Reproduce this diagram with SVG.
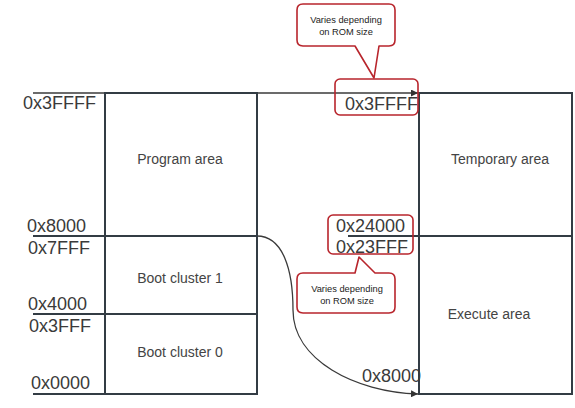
<svg xmlns="http://www.w3.org/2000/svg" width="575" height="408" viewBox="0 0 575 408">
<defs>
<marker id="arr" viewBox="0 0 10 10" refX="10" refY="5" markerWidth="7" markerHeight="7" markerUnits="userSpaceOnUse" orient="auto">
<path d="M0,0 L10,5 L0,10 z" fill="#333"/>
</marker>
</defs>
<style>
.box{fill:none;stroke:#333c44;stroke-width:2}
.ln{fill:none;stroke:#333c44;stroke-width:2}
.con{fill:none;stroke:#3a3a3a;stroke-width:1.3}
.addr{font-family:"Liberation Sans",Arial,sans-serif;font-size:18px;fill:#3a3a3a}
.lbl{font-family:"Liberation Sans",Arial,sans-serif;font-size:14px;fill:#444;text-anchor:middle}
.call{fill:#fff;stroke:#b8252c;stroke-width:1.6;stroke-linejoin:round}
.hl{fill:none;stroke:#b8252c;stroke-width:1.6}
.ct{font-family:"Liberation Sans",Arial,sans-serif;font-size:9.3px;fill:#222;text-anchor:middle}
</style>
<rect width="575" height="408" fill="#fff"/>
<g id="connectors">
<line class="con" x1="33" y1="93" x2="418" y2="93" marker-end="url(#arr)"/>
<path class="con" d="M257,236 C283,236 293,270 293,310 C293,360 355,392 418,394" marker-end="url(#arr)"/>
</g>
<g id="program-area">
<rect class="box" x="105" y="93" width="152" height="143"/>
<text class="lbl" x="180" y="164">Program area</text>
</g>
<g id="boot-cluster-1">
<rect class="box" x="105" y="236" width="152" height="78"/>
<text class="lbl" x="180" y="283">Boot cluster 1</text>
</g>
<g id="boot-cluster-0">
<rect class="box" x="105" y="314" width="152" height="80"/>
<text class="lbl" x="180" y="357">Boot cluster 0</text>
</g>
<g id="left-lines">
<line class="ln" x1="33" y1="236" x2="105" y2="236"/>
<line class="ln" x1="33" y1="314" x2="105" y2="314"/>
<line class="ln" x1="33" y1="394" x2="105" y2="394"/>
</g>
<g id="left-addresses">
<text class="addr" x="23" y="109">0x3FFFF</text>
<text class="addr" x="27" y="232">0x8000</text>
<text class="addr" x="28" y="254">0x7FFF</text>
<text class="addr" x="28" y="310">0x4000</text>
<text class="addr" x="29" y="332">0x3FFF</text>
<text class="addr" x="31" y="389">0x0000</text>
</g>
<g id="temporary-area">
<rect class="box" x="419" y="93" width="153" height="143"/>
<text class="lbl" x="500" y="164">Temporary area</text>
</g>
<g id="execute-area">
<rect class="box" x="419" y="236" width="153" height="158"/>
<text class="lbl" x="489" y="319">Execute area</text>
</g>
<line class="ln" x1="348" y1="236" x2="419" y2="236"/>
<g id="right-addresses">
<text class="addr" x="345" y="110">0x3FFFF</text>
<text class="addr" x="336" y="232">0x24000</text>
<text class="addr" x="336" y="253">0x23FFF</text>
<text class="addr" x="362" y="382">0x8000</text>
</g>
<g id="highlight-top">
<rect class="hl" x="335" y="79" width="83" height="36" rx="5"/>
</g>
<g id="highlight-mid">
<rect class="hl" x="328" y="215" width="85" height="39" rx="5"/>
</g>
<g id="callout-top">
<path class="call" d="M303,4 H389 Q395,4 395,10 V40 Q395,46 389,46 H379 L374,78 L355,46 H303 Q297,46 297,40 V10 Q297,4 303,4 Z"/>
<text class="ct" x="346" y="23">Varies depending</text>
<text class="ct" x="346" y="35">on ROM size</text>
</g>
<g id="callout-bottom">
<path class="call" d="M303,273 H355 L359,257 L375,273 H389 Q395,273 395,279 V307 Q395,313 389,313 H303 Q297,313 297,307 V279 Q297,273 303,273 Z"/>
<text class="ct" x="347" y="292">Varies depending</text>
<text class="ct" x="347" y="304">on ROM size</text>
</g>
</svg>
